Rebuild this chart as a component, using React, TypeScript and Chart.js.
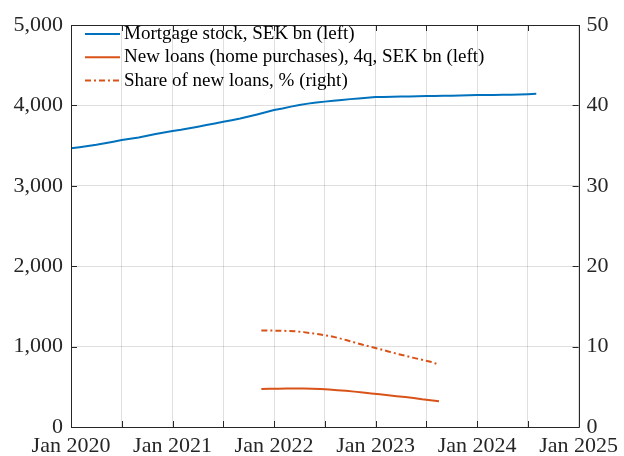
import React, { useEffect, useRef } from "react";
import { Chart, registerables } from "chart.js";

Chart.register(...registerables);

// ---------- data ----------
const stockFirstMonth = "2020-01";
const mortgageStock = [
  3466, 3480, 3495, 3510, 3528, 3548, 3569, 3585, 3600, 3622, 3643, 3662,
  3681, 3697, 3716, 3735, 3755, 3775, 3796, 3815, 3836, 3862, 3888, 3915,
  3942, 3962, 3985, 4005, 4022, 4036, 4047, 4058, 4068, 4078, 4087, 4096,
  4104, 4106, 4108, 4110, 4111, 4113, 4116, 4117, 4119, 4121, 4124, 4126,
  4128, 4128, 4129, 4131, 4133, 4136, 4140, 4144,
];

const loansFirstMonth = "2021-11";
const newLoans = [
  473, 475, 477, 479, 480, 479, 477, 472, 465, 458, 450, 440,
  430, 418, 406, 395, 383, 372, 360, 345, 333, 320,
];
const shareNewLoans = [
  12.0, 12.0, 11.98, 11.95, 11.9, 11.8, 11.65, 11.5, 11.33, 11.1, 10.82, 10.52,
  10.22, 9.95, 9.68, 9.4, 9.12, 8.86, 8.6, 8.36, 8.12, 7.75,
];

const xTickLabels = ["Jan 2020", "Jan 2021", "Jan 2022", "Jan 2023", "Jan 2024", "Jan 2025"];
const seriesLabels = [
  "Mortgage stock, SEK bn (left)",
  "New loans (home purchases), 4q, SEK bn (left)",
  "Share of new loans, % (right)",
];

// ---------- styling ----------
const FONT = "'Liberation Serif', 'Times New Roman', Times, serif";
const AXIS = "#262626";
const GRID = "rgba(38,38,38,0.15)";
const BLUE = "#0072BD";
const ORANGE = "#D95319";
const DASH = [6, 3, 2, 3];

function monthIndex(ym: string): number {
  const [y, m] = ym.split("-").map(Number);
  return (y - 2020) * 12 + (m - 1);
}

const stockStart = monthIndex(stockFirstMonth);
const loansStart = monthIndex(loansFirstMonth) + 0.5;

const overlayPlugin = {
  id: "overlay",
  afterDatasetsDraw(chart: any) {
    const { ctx, chartArea } = chart;
    const { left, right, top, bottom } = chartArea;
    const x = chart.scales.x;
    const y = chart.scales.y;
    const tl = 6;
    ctx.save();
    ctx.strokeStyle = AXIS;
    ctx.lineWidth = 1;
    ctx.setLineDash([]);
    ctx.beginPath();
    ctx.rect(Math.round(left) + 0.5, Math.round(top) + 0.5, Math.round(right - left), Math.round(bottom - top));
    for (let v = 0; v <= 60; v += 6) {
      const px = Math.round(x.getPixelForValue(v)) + 0.5;
      ctx.moveTo(px, bottom);
      ctx.lineTo(px, bottom - tl);
      ctx.moveTo(px, top);
      ctx.lineTo(px, top + tl);
    }
    for (let v = 0; v <= 5000; v += 1000) {
      const py = Math.round(y.getPixelForValue(v)) + 0.5;
      ctx.moveTo(left, py);
      ctx.lineTo(left + tl, py);
      ctx.moveTo(right, py);
      ctx.lineTo(right - tl, py);
    }
    ctx.stroke();

    const colors = [BLUE, ORANGE, ORANGE];
    const dashes = [[], [], DASH];
    ctx.font = `19px ${FONT}`;
    ctx.textBaseline = "middle";
    ctx.textAlign = "left";
    for (let i = 0; i < seriesLabels.length; i++) {
      const cy = top + 9 + i * 23.3;
      ctx.beginPath();
      ctx.strokeStyle = colors[i];
      ctx.lineWidth = 2;
      ctx.setLineDash(dashes[i]);
      ctx.moveTo(left + 14, cy);
      ctx.lineTo(left + 49, cy);
      ctx.stroke();
      ctx.setLineDash([]);
      ctx.fillStyle = "#000";
      ctx.fillText(seriesLabels[i], left + 53, cy);
    }
    ctx.restore();
  },
};

export default function App() {
  const ref = useRef<HTMLCanvasElement | null>(null);

  useEffect(() => {
    document.body.style.margin = "0";
    const canvas = ref.current;
    if (!canvas) return;

    const chart = new Chart(canvas, {
      type: "line",
      data: {
        datasets: [
          {
            label: seriesLabels[0],
            data: mortgageStock.map((v, i) => ({ x: stockStart + i, y: v })),
            borderColor: BLUE,
            borderWidth: 2,
            pointRadius: 0,
            yAxisID: "y",
          },
          {
            label: seriesLabels[1],
            data: newLoans.map((v, i) => ({ x: loansStart + i, y: v })),
            borderColor: ORANGE,
            borderWidth: 2,
            pointRadius: 0,
            yAxisID: "y",
          },
          {
            label: seriesLabels[2],
            data: shareNewLoans.map((v, i) => ({ x: loansStart + i, y: v })),
            borderColor: ORANGE,
            borderWidth: 2,
            borderDash: DASH,
            pointRadius: 0,
            yAxisID: "y2",
          },
        ],
      },
      options: {
        animation: false,
        responsive: false,
        maintainAspectRatio: false,
        layout: { padding: { top: 25, left: 0, right: 0, bottom: 0 } },
        plugins: { legend: { display: false }, tooltip: { enabled: false } },
        scales: {
          x: {
            type: "linear",
            min: 0,
            max: 60,
            afterBuildTicks: (s: any) => {
              const t = [];
              for (let v = 0; v <= 60; v += 6) t.push({ value: v });
              s.ticks = t;
            },
            afterFit: (s: any) => {
              s.height = 29;
            },
            ticks: {
              autoSkip: false,
              maxRotation: 0,
              minRotation: 0,
              padding: 6,
              color: AXIS,
              font: { family: FONT, size: 22 },
              callback: (v: any) => (Number(v) % 12 === 0 ? xTickLabels[Number(v) / 12] : ""),
            },
            grid: { color: GRID, drawTicks: false },
            border: { display: false },
          },
          y: {
            position: "left",
            min: 0,
            max: 5000,
            afterFit: (s: any) => {
              s.width = 71;
            },
            ticks: {
              stepSize: 1000,
              padding: 8,
              color: AXIS,
              font: { family: FONT, size: 22 },
              callback: (v: any) => Number(v).toLocaleString("en-US"),
            },
            grid: { color: GRID, drawTicks: false },
            border: { display: false },
          },
          y2: {
            position: "right",
            min: 0,
            max: 50,
            afterFit: (s: any) => {
              s.width = 44;
            },
            ticks: {
              stepSize: 10,
              padding: 8,
              color: AXIS,
              font: { family: FONT, size: 22 },
            },
            grid: { drawOnChartArea: false, drawTicks: false },
            border: { display: false },
          },
        },
      },
      plugins: [overlayPlugin],
    } as any);

    return () => chart.destroy();
  }, []);

  return (
    <div style={{ width: 624, height: 456, background: "#fff" }}>
      <canvas ref={ref} width={624} height={456} style={{ display: "block" }} />
    </div>
  );
}
